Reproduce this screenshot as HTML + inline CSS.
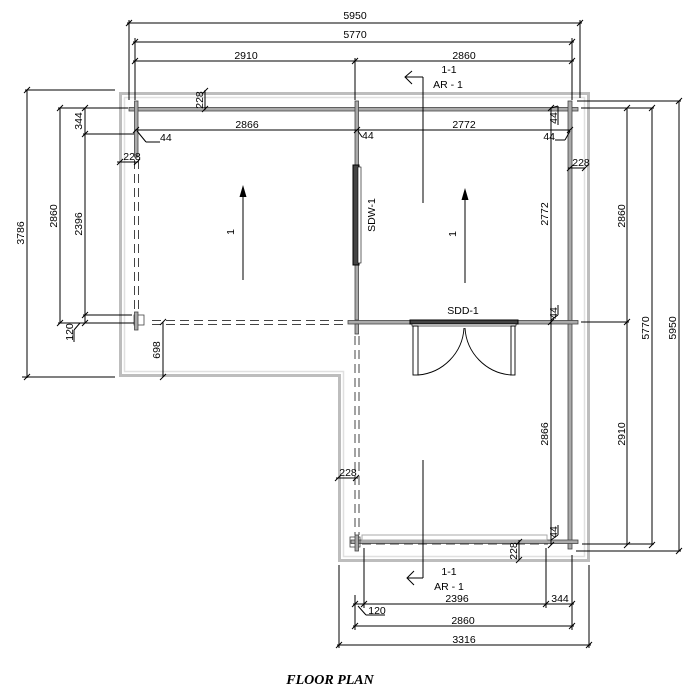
<!DOCTYPE html>
<html><head><meta charset="utf-8"><style>
html,body{margin:0;padding:0;background:#fff;}
svg{display:block;font-family:"Liberation Sans",sans-serif;}
</style></head><body>
<svg width="690" height="691" viewBox="0 0 690 691" xmlns="http://www.w3.org/2000/svg">
<defs>
<g id="t"><line x1="-3" y1="3" x2="3" y2="-3" stroke="#000" stroke-width="1"/></g>
</defs>
<path d="M120.5 93.5 H588.5 V560.5 H339.5 V375.5 H120.5 Z" fill="none" stroke="#bdbdbd" stroke-width="3"/>
<path d="M124.5 97.5 H584.5 V556.5 H343.5 V371.5 H124.5 Z" fill="none" stroke="#e0e0e0" stroke-width="1.5"/>
<g fill="#aaa" stroke="#444" stroke-width="0.8">
<rect x="129" y="107.5" width="449" height="3.5"/>
<rect x="134.5" y="101" width="3.5" height="56"/>
<rect x="355" y="101" width="3.5" height="219"/>
<rect x="568" y="101" width="4" height="448"/>
<rect x="348" y="320.5" width="230" height="3.5"/>
<rect x="351" y="540" width="227" height="3.5"/>
<rect x="355" y="324" width="3.5" height="10"/>
<rect x="134" y="315" width="10" height="10" fill="none"/>
<rect x="134.5" y="312" width="3.5" height="18"/>
<rect x="350" y="537" width="10" height="10" fill="none"/>
<rect x="355" y="535" width="3.5" height="16"/>
</g>
<g stroke="#444" stroke-width="1" stroke-dasharray="9,5" fill="none">
<line x1="134.5" y1="160" x2="134.5" y2="312"/><line x1="138.5" y1="160" x2="138.5" y2="312"/>
<line x1="152" y1="320.5" x2="348" y2="320.5"/><line x1="152" y1="324.5" x2="348" y2="324.5"/>
<line x1="355" y1="336" x2="355" y2="535"/><line x1="359" y1="336" x2="359" y2="535"/>
<line x1="362" y1="540" x2="548" y2="540"/><line x1="362" y1="544" x2="548" y2="544"/>
</g>
<rect x="362" y="535" width="185" height="5" fill="none" stroke="#aaa" stroke-width="1"/>
<rect x="353" y="165" width="6" height="100" fill="#444" stroke="#000"/>
<rect x="358" y="167" width="3" height="96" fill="#fff" stroke="#000" stroke-width="0.6"/>
<rect x="410" y="320" width="108" height="4" fill="#444" stroke="#000"/>
<rect x="412" y="324" width="104" height="2" fill="#fff" stroke="#000" stroke-width="0.6"/>
<g fill="none" stroke="#000" stroke-width="0.9">
<rect x="413" y="326" width="5" height="49"/>
<rect x="511" y="326" width="4" height="49"/>
<path d="M418 375 A50 50 0 0 0 464 328"/>
<path d="M511 375 A50 50 0 0 1 465 328"/>
</g>
<g stroke="#000" stroke-width="1" fill="none">
<line x1="127" y1="23" x2="582" y2="23"/>
<line x1="133" y1="42" x2="574" y2="42"/>
<line x1="133" y1="61" x2="574" y2="61"/>
<line x1="129" y1="20" x2="129" y2="100"/>
<line x1="135" y1="38" x2="135" y2="100"/>
<line x1="355" y1="58" x2="355" y2="100"/>
<line x1="572" y1="38" x2="572" y2="100"/>
<line x1="580" y1="20" x2="580" y2="98"/>
<line x1="135" y1="130" x2="570" y2="130"/>
<line x1="27" y1="90" x2="27" y2="378"/><line x1="25" y1="90" x2="115" y2="90"/><line x1="22" y1="377" x2="115" y2="377"/>
<line x1="60" y1="108" x2="60" y2="323"/><line x1="58" y1="108" x2="128" y2="108"/><line x1="58" y1="323" x2="134" y2="323"/>
<line x1="85" y1="108" x2="85" y2="323"/><line x1="83" y1="134" x2="134" y2="134"/><line x1="83" y1="315" x2="132" y2="315"/>
<line x1="80" y1="323" x2="74" y2="330"/><line x1="74" y1="330" x2="74" y2="342"/>
<line x1="163" y1="322" x2="163" y2="377"/>
<line x1="551" y1="108" x2="551" y2="545"/>
<line x1="627" y1="108" x2="627" y2="545"/>
<line x1="652" y1="108" x2="652" y2="545"/>
<line x1="679" y1="101" x2="679" y2="551"/>
<line x1="577" y1="101" x2="681" y2="101"/>
<line x1="581" y1="108" x2="654" y2="108"/>
<line x1="581" y1="322" x2="629" y2="322"/>
<line x1="582" y1="544" x2="654" y2="544"/>
<line x1="576" y1="551" x2="681" y2="551"/>
<line x1="568" y1="168" x2="585" y2="168"/>
<line x1="336" y1="478" x2="358" y2="478"/>
<line x1="205" y1="90" x2="205" y2="110"/>
<line x1="519" y1="540" x2="519" y2="560"/>
<line x1="355" y1="595" x2="355" y2="630"/><line x1="364" y1="548" x2="364" y2="608"/><line x1="546" y1="548" x2="546" y2="608"/><line x1="572" y1="555" x2="572" y2="630"/>
<line x1="339" y1="565" x2="339" y2="648"/><line x1="589" y1="565" x2="589" y2="648"/>
<line x1="353" y1="604" x2="574" y2="604"/>
<line x1="353" y1="626" x2="574" y2="626"/>
<line x1="337" y1="645" x2="591" y2="645"/>
<line x1="358" y1="606" x2="366" y2="615"/><line x1="366" y1="615" x2="385" y2="615"/>
<line x1="137" y1="131" x2="146" y2="142"/><line x1="146" y1="142" x2="160" y2="142"/>
<line x1="358" y1="131" x2="362" y2="137"/>
<line x1="570" y1="131" x2="565" y2="140"/><line x1="565" y1="140" x2="555" y2="140"/>
<line x1="551" y1="108" x2="558" y2="106"/><line x1="558" y1="106" x2="558" y2="125"/>
<line x1="551" y1="320" x2="558" y2="315"/><line x1="558" y1="315" x2="558" y2="305"/>
<line x1="551" y1="540" x2="558" y2="535"/><line x1="558" y1="535" x2="558" y2="525"/>
<line x1="117" y1="162" x2="138" y2="162"/>
<line x1="423" y1="77" x2="423" y2="203"/><line x1="405" y1="77" x2="423" y2="77"/>
<polyline points="412,71 405,77 412,84"/>
<line x1="423" y1="460" x2="423" y2="578"/><line x1="407" y1="578" x2="423" y2="578"/>
<polyline points="414,571 407,578 414,585"/>
<line x1="243" y1="195" x2="243" y2="280"/>
<line x1="465" y1="198" x2="465" y2="283"/>
</g>
<polygon points="243,185 239.5,197 246.5,197" fill="#000"/>
<polygon points="465,188 461.5,200 468.5,200" fill="#000"/>
<g>
<use href="#t" x="129" y="23"/><use href="#t" x="580" y="23"/>
<use href="#t" x="135" y="42"/><use href="#t" x="572" y="42"/>
<use href="#t" x="135" y="61"/><use href="#t" x="355" y="61"/><use href="#t" x="572" y="61"/>
<use href="#t" x="136" y="130"/><use href="#t" x="357" y="130"/><use href="#t" x="570" y="130"/>
<use href="#t" x="27" y="90"/><use href="#t" x="27" y="377"/>
<use href="#t" x="60" y="108"/><use href="#t" x="60" y="323"/>
<use href="#t" x="85" y="108"/><use href="#t" x="85" y="134"/><use href="#t" x="85" y="315"/><use href="#t" x="85" y="323"/>
<use href="#t" x="163" y="322"/><use href="#t" x="163" y="377"/>
<use href="#t" x="551" y="108"/><use href="#t" x="551" y="322"/><use href="#t" x="551" y="545"/>
<use href="#t" x="627" y="108"/><use href="#t" x="627" y="322"/><use href="#t" x="627" y="545"/>
<use href="#t" x="652" y="108"/><use href="#t" x="652" y="545"/>
<use href="#t" x="679" y="101"/><use href="#t" x="679" y="551"/>
<use href="#t" x="120" y="162"/><use href="#t" x="137" y="162"/>
<use href="#t" x="570" y="168"/><use href="#t" x="585" y="168"/>
<use href="#t" x="338" y="478"/><use href="#t" x="356" y="478"/>
<use href="#t" x="205" y="91"/><use href="#t" x="205" y="109"/>
<use href="#t" x="519" y="542"/><use href="#t" x="519" y="560"/>
<use href="#t" x="355" y="604"/><use href="#t" x="364" y="604"/><use href="#t" x="546" y="604"/><use href="#t" x="572" y="604"/>
<use href="#t" x="355" y="626"/><use href="#t" x="572" y="626"/>
<use href="#t" x="339" y="645"/><use href="#t" x="589" y="645"/>
</g>
<g font-size="10.5" fill="#000" text-anchor="middle">
<text x="355" y="19">5950</text>
<text x="355" y="38">5770</text>
<text x="246" y="59">2910</text>
<text x="464" y="59">2860</text>
<text x="449" y="73">1-1</text>
<text x="448" y="88">AR - 1</text>
<text x="247" y="128">2866</text>
<text x="464" y="128">2772</text>
<text x="463" y="314">SDD-1</text>
<text x="132" y="160">228</text>
<text x="581" y="166">228</text>
<text x="348" y="476">228</text>
<text x="160" y="141" text-anchor="start">44</text>
<text x="362" y="139" text-anchor="start">44</text>
<text x="555" y="140" text-anchor="end">44</text>
<text x="449" y="575">1-1</text>
<text x="449" y="590">AR - 1</text>
<text x="457" y="602">2396</text>
<text x="560" y="602">344</text>
<text x="377" y="614">120</text>
<text x="463" y="624">2860</text>
<text x="464" y="643">3316</text>
<text transform="translate(24,233) rotate(-90)">3786</text>
<text transform="translate(57,216) rotate(-90)">2860</text>
<text transform="translate(82,224) rotate(-90)">2396</text>
<text transform="translate(82,121) rotate(-90)">344</text>
<text transform="translate(73,332) rotate(-90)">120</text>
<text transform="translate(160,350) rotate(-90)">698</text>
<text transform="translate(203,100) rotate(-90)">228</text>
<text transform="translate(517,551) rotate(-90)">228</text>
<text transform="translate(375,215) rotate(-90)">SDW-1</text>
<text transform="translate(234,232) rotate(-90)">1</text>
<text transform="translate(456,234) rotate(-90)">1</text>
<text transform="translate(548,214) rotate(-90)">2772</text>
<text transform="translate(548,434) rotate(-90)">2866</text>
<text transform="translate(625,216) rotate(-90)">2860</text>
<text transform="translate(625,434) rotate(-90)">2910</text>
<text transform="translate(649,328) rotate(-90)">5770</text>
<text transform="translate(676,328) rotate(-90)">5950</text>
<text transform="translate(557,118) rotate(-90)">44</text>
<text transform="translate(557,313) rotate(-90)">44</text>
<text transform="translate(557,532) rotate(-90)">44</text>
</g>
<text x="330" y="684" font-family="Liberation Serif,serif" font-style="italic" font-weight="bold" font-size="14" text-anchor="middle">FLOOR PLAN</text>
</svg>
</body></html>
